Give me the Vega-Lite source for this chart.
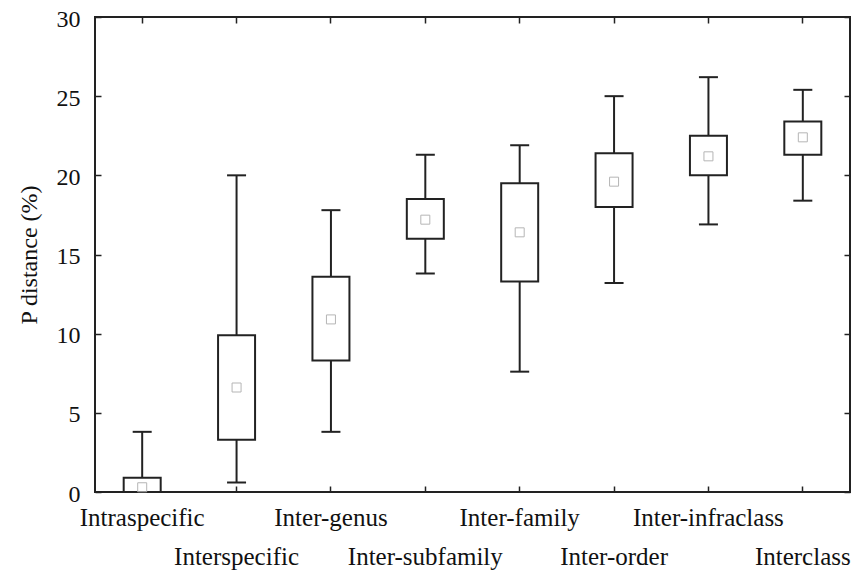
{
  "$schema": "https://vega.github.io/schema/vega-lite/v6.json",
  "width": 755,
  "height": 475,
  "autosize": "none",
  "padding": {"left": 95, "top": 17, "right": 5, "bottom": 80},
  "background": "white",
  "config": {
    "view": {"stroke": "#222", "strokeWidth": 2},
    "font": "Liberation Serif",
    "axis": {
      "domain": false,
      "grid": false,
      "tickColor": "#222",
      "tickWidth": 1.5,
      "tickSize": -6,
      "labelFont": "Liberation Serif",
      "titleFont": "Liberation Serif",
      "labelColor": "#111",
      "titleColor": "#111",
      "titleFontWeight": "normal"
    }
  },
  "data": {
    "values": [
      {"group": "Intraspecific", "min": 0, "q1": 0, "mean": 0.3, "q3": 0.9, "max": 3.8},
      {"group": "Interspecific", "min": 0.6, "q1": 3.3, "mean": 6.6, "q3": 9.9, "max": 20.0},
      {"group": "Inter-genus", "min": 3.8, "q1": 8.3, "mean": 10.9, "q3": 13.6, "max": 17.8},
      {"group": "Inter-subfamily", "min": 13.8, "q1": 16.0, "mean": 17.2, "q3": 18.5, "max": 21.3},
      {"group": "Inter-family", "min": 7.6, "q1": 13.3, "mean": 16.4, "q3": 19.5, "max": 21.9},
      {"group": "Inter-order", "min": 13.2, "q1": 18.0, "mean": 19.6, "q3": 21.4, "max": 25.0},
      {"group": "Inter-infraclass", "min": 16.9, "q1": 20.0, "mean": 21.2, "q3": 22.5, "max": 26.2},
      {"group": "Interclass", "min": 18.4, "q1": 21.3, "mean": 22.4, "q3": 23.4, "max": 25.4}
    ]
  },
  "resolve": {"axis": {"x": "independent", "y": "independent"}},
  "layer": [
    {
      "mark": {"type": "rule", "color": "#222", "strokeWidth": 2},
      "encoding": {
        "x": {
          "field": "group", "type": "nominal", "sort": null,
          "scale": {"paddingInner": 0, "paddingOuter": 0},
          "axis": {
            "title": null,
            "orient": "bottom",
            "labelAngle": 0,
            "labelFontSize": 25,
            "labelBaseline": "alphabetic",
            "labelOverlap": false,
            "labelBound": false,
            "labelPadding": {
              "condition": {"test": "indexof(['Interspecific','Inter-subfamily','Inter-order','Interclass'], datum.value) >= 0", "value": 78},
              "value": 39
            }
          }
        },
        "y": {
          "field": "min", "type": "quantitative",
          "scale": {"domain": [0, 30], "nice": false, "zero": false},
          "axis": {
            "title": "P distance (%)",
            "orient": "left",
            "values": [0, 5, 10, 15, 20, 25, 30],
            "labelFontSize": 24,
            "labelPadding": 21,
            "labelOffset": 2,
            "titleFontSize": 24,
            "titlePadding": 15
          }
        },
        "y2": {"field": "max"}
      }
    },
    {
      "mark": {"type": "tick", "size": 19, "thickness": 2, "color": "#222", "opacity": 1},
      "encoding": {
        "x": {"field": "group", "type": "nominal", "sort": null, "axis": null},
        "y": {"field": "max", "type": "quantitative", "axis": null}
      }
    },
    {
      "mark": {"type": "tick", "size": 19, "thickness": 2, "color": "#222", "opacity": 1},
      "encoding": {
        "x": {"field": "group", "type": "nominal", "sort": null, "axis": null},
        "y": {"field": "min", "type": "quantitative", "axis": null}
      }
    },
    {
      "mark": {"type": "bar", "width": 37, "fill": "white", "stroke": "#222", "strokeWidth": 2},
      "encoding": {
        "x": {"field": "group", "type": "nominal", "sort": null, "axis": null},
        "y": {"field": "q1", "type": "quantitative", "axis": null},
        "y2": {"field": "q3"}
      }
    },
    {
      "mark": {"type": "point", "shape": "square", "size": 81, "filled": false, "color": "#b5b5b5", "strokeWidth": 1, "opacity": 1},
      "encoding": {
        "x": {"field": "group", "type": "nominal", "sort": null, "axis": {"orient": "top", "title": null, "labels": false}},
        "y": {"field": "mean", "type": "quantitative", "axis": {"orient": "right", "title": null, "labels": false, "values": [0, 5, 10, 15, 20, 25, 30]}}
      }
    }
  ]
}
